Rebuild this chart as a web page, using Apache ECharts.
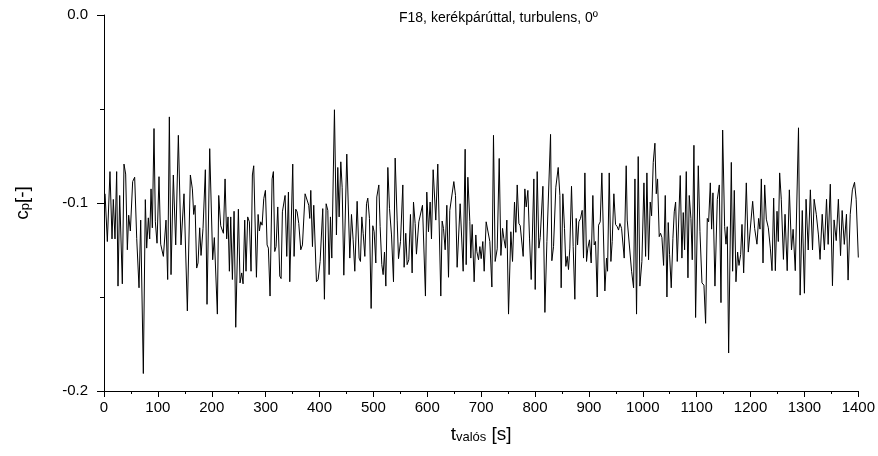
<!DOCTYPE html>
<html><head><meta charset="utf-8">
<script src="https://cdn.jsdelivr.net/npm/echarts@6/dist/echarts.min.js"></script>
<style>html,body{margin:0;padding:0;background:#fff}#c{width:878px;height:456px}</style>
</head><body><div id="c"></div>
<script>
const titleText = 'F18, kerékpárúttal, turbulens, 0º';
const xMin = 0, xMax = 1400, xStep = 100;
const yMin = -0.2, yMax = 0, yStep = 0.1;

// time [s] and cp values (in units of 1e-3), by segment
const t1 = [2,6.2,11.1,14.9,17.3,20.4,23.5,26.0,29.1,34.0,37.1,40.2,43.3,45.8,48.9,53.2,56.9,60.7,65.0,68.1,73.0,76.7,79.2,82.3,84.8,87.3,89.7,92.8,95.3,98.4,102.1,105.2,110.2,115.1,118.2,121.3,124.4,128.7,133.1];
const c1 = [-95.1,-120.5,-83.3,-119.1,-98.1,-119.1,-83.3,-144.2,-96,-143,-79.3,-84.6,-124.9,-106.5,-114.9,-88.6,-86.3,-118.8,-145.1,-109.1,-190.7,-98.2,-124,-107.9,-119.1,-92.5,-113.2,-60.4,-110,-121.4,-86,-121.9,-128.4,-109.1,-140.7,-54.2,-138.1,-85.1,-122.3];
const t2 = [138.0,142.9,148.5,154.7,160.3,164.0,166.5,169.0,172.0,174.5,177.6,180.1,183.8,188.1,191.2,196.2,201.7,204.8,210.4,212.9,216.6,219.1,221.6,224.7,227.7,230.2,232.7,235.2,238.3,241.4,244.5,249.4,252.5,255.6,258.1,261.2,263.6,266.7,269.8,272.9,275.4];
const c2 = [-64,-122.3,-95.1,-157.4,-85.1,-92.5,-106.1,-101.2,-134.6,-131.9,-113.2,-127.9,-113.5,-82.3,-153.9,-71.1,-130.2,-118.4,-159.1,-96,-112.1,-112.6,-116.1,-87.2,-119.1,-107.4,-136.3,-107.4,-140.7,-104.4,-166.1,-103.3,-142.5,-137.2,-143,-109.1,-136.3,-107.4,-110,-136.3,-85.1];
const t3 = [277.9,282.9,286.0,288.4,290.9,293.4,296.5,299.6,302.7,305.1,308.2,312.0,314.4,316.9,319.4,322.5,326.2,328.7,331.1,333.6,336.1,339.2,342.3,344.8,350.3,352.8,355.9,358.4,361.5,365.2,368.3,373.2,376.3,380.0,381.9,383.8,386.9,389.3,394.3,397.4,401.1,406.0,409.1];
const c3 = [-80.2,-139.5,-106.1,-114.9,-110,-111.8,-97.7,-93.3,-122.3,-124,-149.5,-87.2,-83.3,-125.8,-123.2,-102.1,-138.9,-140.2,-104.7,-103.9,-96,-128.4,-94.2,-141.9,-79.3,-128.4,-103.3,-104.7,-110.9,-124.9,-122.3,-95.1,-96,-101.2,-108.2,-93.3,-123.2,-101.2,-141.9,-140.7,-131.1,-103,-151.2];
const t4 = [412.3,415.4,417.8,420.3,422.8,427.7,431.4,433.9,436.4,439.5,442.0,445.1,450.6,456.2,459.3,462.4,465.5,469.8,473.5,476.0,478.5,481.0,484.1,487.2,489.6,492.7,495.8,498.9,501.4,504.5,506.3,510.1,512.5,515.6,518.1,520.6,523.1,526.8,529.9,533.6,537.3,540.4,544.1,546.6,550.3];
const c4 = [-100.4,-103.9,-138.1,-107.4,-129.3,-50.4,-117,-81.1,-107.4,-78.1,-91.6,-138.4,-74,-129.3,-106.1,-119.6,-136.3,-99.1,-129.3,-131.1,-107.4,-116.1,-128.4,-100.4,-97.4,-108.2,-156.1,-112.1,-115.3,-131.9,-96.8,-90.4,-112.6,-132.8,-138.1,-126.1,-144.2,-81.1,-103,-117,-141.9,-76.1,-109.1,-129.6,-120.5];
const t5 = [554.6,557.0,560.1,562.6,565.7,568.8,571.9,574.4,577.5,579.9,584.3,591.1,596.6,599.1,602.2,605.3,607.8,610.9,615.8,619.5,625.1,627.6,630.1,633.2,636.3,639.4,641.8,644.9,649.3,652.4,655.4,661.0,666.6,670.3,672.2,675.3,679.0,680.8,683.3,687.0,690.1];
const c5 = [-90.4,-134.2,-116.1,-132.8,-130.2,-106.1,-137.2,-99.5,-110.9,-127.2,-110,-101.2,-149.5,-94.2,-115.3,-99.5,-119.1,-82.3,-109.1,-79.3,-149.5,-109.6,-113.5,-124.9,-101.2,-139.5,-103.9,-103.3,-88.6,-96,-134.2,-100.4,-136.3,-71.4,-132.8,-86.3,-110,-129.3,-111.4,-141.9,-117];
const t6 = [692.0,695.1,697.6,700.0,703.1,705.6,709.3,712.4,716.1,719.9,722.9,726.0,729.8,733.5,736.6,739.7,742.1,745.2,747.7,750.8,755.1,758.2,761.9,764.4,766.9,770.0,772.5,774.9,778.0,781.1,783.6,786.7,789.8,792.9,795.4,797.8,800.3,804.0,807.1,809.6,814.6,818.3,822.0,828.8];
const c6 = [-125.8,-130.2,-123.2,-129.6,-120.5,-136.3,-110,-109.6,-120.5,-144.7,-64,-131.1,-124.4,-76.3,-127.9,-113.5,-118.8,-124,-109.1,-159.1,-115.3,-131.1,-99.5,-115.6,-90.4,-110.9,-112.1,-111.4,-128.4,-92.5,-102.1,-93.3,-119.1,-140.7,-141.2,-87.2,-146,-83.3,-124,-118.4,-91.1,-158.2,-120.5,-63.5];
const t7 = [831.2,834.3,838.6,843.0,846.1,848.5,851.6,854.7,857.2,859.7,862.1,864.6,867.7,870.8,873.9,876.4,878.9,881.3,884.4,887.5,890.0,892.5,895.6,898.0,901.1,904.2,907.3,909.8,912.3,915.4,917.9,921.0,924.0,927.1,929.6,932.7,934.6,937.7,940.8,943.2,946.3,949.4,952.5,955.0,957.5,960.6,965.5,969.2];
const c7 = [-130.7,-123.2,-91.6,-81.1,-96,-145.1,-95.1,-113.5,-133.7,-128.4,-135.4,-124,-91.1,-123.2,-151.2,-108.2,-122.3,-110,-108.2,-103.9,-129.3,-84,-131.1,-124,-119.6,-131.9,-96,-122.3,-120.5,-150,-111.8,-110,-84,-84.6,-146.8,-129.3,-136.3,-84,-131.1,-120.5,-95.1,-111.4,-112.6,-114.4,-110.9,-113.5,-129.3,-80.2];
const t8 = [971.1,974.2,979.2,982.9,985.4,988.4,991.5,994.6,998.3,1002.1,1005.2,1007.6,1010.7,1013.8,1016.3,1019.4,1022.5,1025.0,1027.4,1030.5,1033.0,1035.5,1038.6,1041.7,1044.8,1047.2,1049.7,1052.8,1055.9,1058.4,1060.9,1064.0,1069.5,1072.6,1075.1,1077.6,1080.7,1083.8,1086.2,1089.3,1091.8,1094.9,1098.0,1103.0,1106.1];
const c8 = [-109.1,-110,-136.3,-145.1,-87.2,-159.1,-75.3,-144.2,-131.1,-89.3,-128.4,-84,-130.2,-99.5,-106.8,-78.4,-68.2,-95.1,-87.2,-117.9,-116.1,-118.4,-133.2,-96,-150,-110.4,-127.5,-145.1,-118.8,-104.7,-99.5,-131.1,-85.4,-129.3,-105.1,-124.9,-83.3,-139.8,-96,-108.2,-130.2,-69.3,-160.9,-80.2,-115.3];
const t9 = [1109.8,1113.5,1116.6,1119.7,1122.2,1125.3,1127.7,1130.2,1133.9,1138.3,1142.0,1145.1,1148.2,1151.9,1154.4,1156.8,1159.3,1164.3,1166.7,1169.8,1172.9,1176.0,1178.5,1181.6,1184.1,1187.2,1192.1,1195.8,1198.3,1203.9,1207.6,1211.9,1215.0,1217.5,1220.0,1223.1,1226.2,1229.3,1233.0,1236.7,1239.8,1242.9,1246.0,1249.1,1251.5,1254.0];
const c9 = [-142.5,-143.7,-164,-108.2,-110,-89.3,-113.9,-94.6,-144.2,-98.1,-90.4,-153,-61.2,-112.6,-121.9,-112.6,-179.8,-78.4,-136.3,-93.3,-141.9,-126.1,-133.2,-127.5,-111.4,-137.2,-89.3,-126.1,-125.8,-99.1,-113.5,-121.9,-108.2,-113.9,-87.2,-131.9,-90.4,-108.6,-113.2,-124,-136,-97.4,-136,-104.4,-120.5,-84];
const t10 = [1257,1261,1264,1268,1272,1276,1279,1283,1289,1292,1296,1300,1303,1307,1311,1315,1318,1322,1326,1329,1333,1337,1341,1344,1348,1352,1355,1359,1363,1367,1370,1374,1378,1381,1385,1389,1393,1396,1400];
const c10 = [-98,-130,-106,-136,-93,-125,-114,-136,-60,-149,-104,-148,-98,-125,-93,-125,-98,-106,-117,-130,-106,-125,-98,-122,-90,-144,-109,-120,-98,-128,-104,-122,-106,-141,-106,-93,-89,-98,-129];

const times = [].concat(t1,t2,t3,t4,t5,t6,t7,t8,t9,t10);
const cpMilli = [].concat(c1,c2,c3,c4,c5,c6,c7,c8,c9,c10);
const seriesData = times.map((t, i) => [t, cpMilli[i] / 1000]);

const FONT = 'Liberation Sans';
const chart = echarts.init(document.getElementById('c'), null, {renderer: 'canvas'});
chart.setOption({
  animation: false,
  backgroundColor: '#ffffff',
  title: {
    text: titleText, left: 394, top: 6,
    textStyle: {fontFamily: FONT, fontSize: 14, fontWeight: 'normal', color: '#000'}
  },
  grid: {left: 104, right: 19, top: 15, bottom: 65, containLabel: false},
  xAxis: {
    type: 'value', min: xMin, max: xMax, interval: xStep,
    axisLine: {show: true, onZero: false, lineStyle: {color: '#000', width: 1}},
    axisTick: {show: true, inside: false, length: 6, lineStyle: {color: '#000', width: 1}},
    minorTick: {show: true, splitNumber: 2, length: 3, lineStyle: {color: '#000', width: 1}},
    splitLine: {show: false},
    axisLabel: {color: '#000', fontFamily: FONT, fontSize: 15, margin: 9,
      formatter: v => String(v)},
    name: '{a|t}{b|valós}{a| [s]}',
    nameLocation: 'middle', nameGap: 31,
    nameTextStyle: {
      rich: {
        a: {fontFamily: FONT, fontSize: 19, color: '#000', verticalAlign: 'bottom', lineHeight: 22},
        b: {fontFamily: FONT, fontSize: 13, color: '#000', verticalAlign: 'bottom', lineHeight: 15, padding: [7, 0, 0, 0]}
      }
    }
  },
  yAxis: {
    type: 'value', min: yMin, max: yMax, interval: yStep,
    axisLine: {show: true, onZero: false, lineStyle: {color: '#000', width: 1}},
    axisTick: {show: true, inside: false, length: 7, lineStyle: {color: '#000', width: 1}},
    minorTick: {show: true, splitNumber: 2, length: 4, lineStyle: {color: '#000', width: 1}},
    splitLine: {show: false},
    axisLabel: {color: '#000', fontFamily: FONT, fontSize: 15, margin: 16,
      formatter: v => v.toFixed(1)},
    name: '{a|c}{b|p}{a|[-]}',
    nameLocation: 'middle', nameGap: 72, nameRotate: 90,
    nameTextStyle: {
      rich: {
        a: {fontFamily: FONT, fontSize: 19, color: '#000', verticalAlign: 'bottom', lineHeight: 22},
        b: {fontFamily: FONT, fontSize: 13, color: '#000', verticalAlign: 'bottom', lineHeight: 15, padding: [7, 0, 0, 0]}
      }
    }
  },
  series: [{
    type: 'line', data: seriesData, symbol: 'none', showSymbol: false,
    lineStyle: {color: '#000', width: 1}, silent: true
  }]
});
</script>
</body></html>
